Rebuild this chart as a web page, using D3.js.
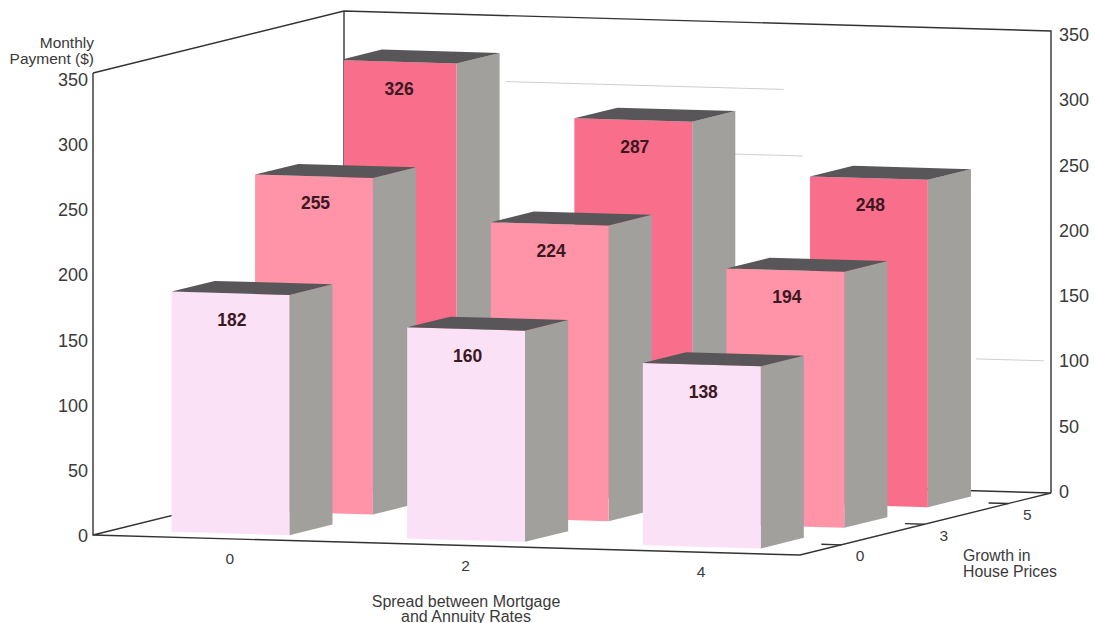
<!DOCTYPE html>
<html>
<head>
<meta charset="utf-8">
<title>Monthly Payment by Rate Spread and House Price Growth</title>
<script src="https://cdn.jsdelivr.net/npm/d3@7"></script>
<style>
  html, body { margin: 0; padding: 0; background: #fff; }
  text { font-family: "Liberation Sans", Arial, sans-serif; }
</style>
</head>
<body>
<svg id="chart" width="1095" height="623"></svg>
<script>
// Categories along the two floor axes
const spreads = [0, 2, 4];
const growthRates = [0, 3, 5];

// Monthly payment per spread, one list per house price growth rate
const paymentsGrowth0 = [182, 160, 138];
const paymentsGrowth3 = [255, 224, 194];
const paymentsGrowth5 = [326, 287, 248];

const valueTicks = [0, 50, 100, 150, 200, 250, 300, 350];

// Gridline remnants still legible on the back wall: value, start and end along the wall
const wallLineValues = [300, 250, 100];
const wallLineStarts = [0.229, 0.553, 0.894];
const wallLineEnds = [0.622, 0.649, 0.99];

const rowColors = ["#fae1f6", "#ff93a7", "#f96f8b"];
const sideColor = "#a2a09c";
const topColor = "#595659";
const inkColor = "#3a3a3a";

const svg = d3.select("#chart");

// Oblique projection: u runs along the front edge, v into the depth, h upward
const widthX = d3.scaleLinear([0, 1], [0, 707]);
const widthY = d3.scaleLinear([0, 1], [0, 20]);
const depthX = d3.scaleLinear([0, 1], [0, 251]);
const depthY = d3.scaleLinear([0, 1], [0, -62]);
const valueY = d3.scaleLinear([0, 350], [0, -462]);
const originX = 93, originY = 535;

const project = (u, v, h) => [
  originX + widthX(u) + depthX(v),
  originY + widthY(u) + depthY(v) + valueY(h)
];

const uBand = d3.scaleBand().domain(spreads).range([0, 1]).paddingInner(0.5).paddingOuter(0.25);
const vBand = d3.scaleBand().domain(growthRates).range([-0.003, 0.997]).paddingInner(0.484).paddingOuter(0.2435);

// Tick labels sit slightly apart from the wall edges
const leftLabelY = d3.scaleLinear([0, 350], [536, 80]);
const rightLabelY = d3.scaleLinear([0, 350], [492, 35]);

const path = pts => "M" + pts.map(p => p.join(",")).join("L") + "Z";
const line = pts => "M" + pts.map(p => p.join(",")).join("L");

const frame = svg.append("g").attr("fill", "none").attr("stroke", "#333").attr("stroke-width", 1.4);

// Faint gridlines on the back wall
wallLineValues.forEach((val, i) => {
  svg.append("path")
    .attr("d", line([project(wallLineStarts[i], 1, val), project(wallLineEnds[i], 1, val)]))
    .attr("fill", "none").attr("stroke", "#cfcfcf").attr("stroke-width", 1);
});

// Walls and floor outline
const maxValue = 350;
[
  [project(0, 0, maxValue), project(0, 0, 0), project(1, 0, 0), project(1, 1, 0), project(0, 1, 0), project(0, 0, 0)],
  [project(0, 0, maxValue), project(0, 1, maxValue), project(1, 1, maxValue), project(1, 1, 0)],
  [project(0, 1, maxValue), project(0, 1, 0)]
].forEach(pts => frame.append("path").attr("d", line(pts)));

// Ticks on the growth axis, running inward from the right floor edge
growthRates.forEach(g => {
  const v = vBand(g) + vBand.bandwidth() / 2;
  const end = project(1, v, 0);
  frame.append("path").attr("d", line([project(0.972, v, 0), end]));
  svg.append("text").attr("x", end[0] + 19).attr("y", end[1] + 11)
    .attr("text-anchor", "middle").attr("dominant-baseline", "central")
    .attr("font-size", 15.5).attr("fill", inkColor).text(g);
});

// Rearmost row stops at the corner of the walls
const wallX = project(0, 1, 0)[0];
svg.append("defs").append("clipPath").attr("id", "wall-clip")
  .append("rect").attr("x", wallX).attr("y", 0).attr("width", 1095 - wallX).attr("height", 623);

const rows = [
  { growth: growthRates[2], values: paymentsGrowth5, color: rowColors[2], clip: true },
  { growth: growthRates[1], values: paymentsGrowth3, color: rowColors[1], clip: false },
  { growth: growthRates[0], values: paymentsGrowth0, color: rowColors[0], clip: false }
];

rows.forEach(row => {
  const v0 = vBand(row.growth), v1 = v0 + vBand.bandwidth();
  const rowG = svg.append("g");
  if (row.clip) rowG.attr("clip-path", "url(#wall-clip)");
  const bars = rowG.selectAll("g").data(row.values.map((value, i) => ({ value, spread: spreads[i] })))
    .join("g");

  bars.each(function (d) {
    const u0 = uBand(d.spread), u1 = u0 + uBand.bandwidth();
    const g = d3.select(this);
    g.append("path").attr("fill", sideColor)
      .attr("d", path([project(u1, v0, 0), project(u1, v1, 0), project(u1, v1, d.value), project(u1, v0, d.value)]));
    g.append("path").attr("fill", row.color)
      .attr("d", path([project(u0, v0, 0), project(u1, v0, 0), project(u1, v0, d.value), project(u0, v0, d.value)]));
    g.append("path").attr("fill", topColor)
      .attr("d", path([project(u0, v0, d.value), project(u1, v0, d.value), project(u1, v1, d.value), project(u0, v1, d.value)]));
  });

  // Value labels on the front faces
  bars.each(function (d) {
    const c = project(uBand(d.spread) + uBand.bandwidth() / 2, v0, d.value);
    svg.append("text").attr("x", c[0] + 1.5).attr("y", c[1] + 27)
      .attr("text-anchor", "middle").attr("dominant-baseline", "central")
      .attr("font-size", 17.5).attr("font-weight", "bold").attr("fill", "#3b1822").text(d.value);
  });
});

// Value axes on both sides
const valueLabels = svg.append("g").attr("font-size", 18).attr("fill", inkColor);
valueLabels.selectAll("text.left").data(valueTicks).join("text").attr("class", "left")
  .attr("x", 88).attr("y", d => leftLabelY(d))
  .attr("text-anchor", "end").attr("dominant-baseline", "central").text(d => d);
valueLabels.selectAll("text.right").data(valueTicks).join("text").attr("class", "right")
  .attr("x", 1059).attr("y", d => rightLabelY(d))
  .attr("dominant-baseline", "central").text(d => d);

// Spread axis labels under the front edge
spreads.forEach(s => {
  const p = project(uBand(s) + uBand.bandwidth() / 2, 0, 0);
  svg.append("text").attr("x", p[0] + 19).attr("y", p[1] + 20)
    .attr("text-anchor", "middle").attr("dominant-baseline", "central")
    .attr("font-size", 15.5).attr("fill", inkColor).text(s);
});

// Axis titles
const addTitle = (lines, x, ys, anchor, size) => lines.forEach((t, i) => {
  svg.append("text").attr("x", x).attr("y", ys[i]).attr("text-anchor", anchor)
    .attr("dominant-baseline", "central").attr("font-size", size).attr("fill", inkColor).text(t);
});
addTitle(["Monthly", "Payment ($)"], 94, [42, 58], "end", 15.5);
addTitle(["Spread between Mortgage", "and Annuity Rates"], 466, [601, 616], "middle", 16);
addTitle(["Growth in", "House Prices"], 963, [555, 571], "start", 15.8);
</script>
</body>
</html>
